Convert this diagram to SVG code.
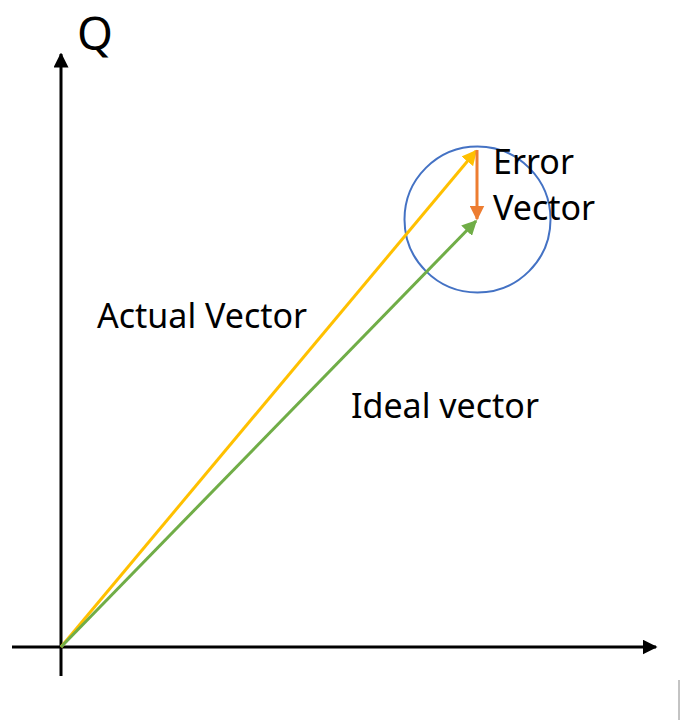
<svg xmlns="http://www.w3.org/2000/svg" width="680" height="720" viewBox="0 0 680 720">
<defs>
<style>
.lbl{font-family:"Noto Sans","Open Sans","DejaVu Sans",sans-serif;font-size:34px;fill:#000}
.ax{stroke:#000;stroke-width:3;fill:none}
.vec{stroke-width:3;fill:none}
</style>
<marker id="hk" viewBox="0 0 10 10" refX="9" refY="5" markerWidth="5" markerHeight="5" orient="auto" markerUnits="strokeWidth"><path d="M0,0 L10,5 L0,10 z" fill="#000"/></marker>
<marker id="hy" viewBox="0 0 10 10" refX="9" refY="5" markerWidth="5" markerHeight="5" orient="auto" markerUnits="strokeWidth"><path d="M0,0 L10,5 L0,10 z" fill="#FFC000"/></marker>
<marker id="hg" viewBox="0 0 10 10" refX="9" refY="5" markerWidth="5" markerHeight="5" orient="auto" markerUnits="strokeWidth"><path d="M0,0 L10,5 L0,10 z" fill="#70AD47"/></marker>
<marker id="ho" viewBox="0 0 10 10" refX="9" refY="5" markerWidth="5" markerHeight="5" orient="auto" markerUnits="strokeWidth"><path d="M0,0 L10,5 L0,10 z" fill="#ED7D31"/></marker>
</defs>
<rect width="680" height="720" fill="#fff"/>
<g id="axes">
<line class="ax" x1="61" y1="676" x2="61" y2="54" marker-end="url(#hk)"/>
<line class="ax" x1="12" y1="647" x2="656" y2="647" marker-end="url(#hk)"/>
<text x="77" y="50" class="lbl" style="font-size:46px">Q</text>
</g>
<g id="circle">
<circle cx="477.5" cy="219.5" r="73" fill="none" stroke="#4472C4" stroke-width="2"/>
</g>
<g id="connectors">
<line class="vec" stroke="#FFC000" x1="61" y1="647" x2="476" y2="151" marker-end="url(#hy)"/>
<line class="vec" stroke="#70AD47" x1="61" y1="647" x2="476" y2="221" marker-end="url(#hg)"/>
<line class="vec" stroke="#ED7D31" x1="477" y1="150" x2="477" y2="219" marker-end="url(#ho)"/>
</g>
<g id="labels">
<text x="493" y="174" class="lbl">Error</text>
<text x="493" y="220" class="lbl">Vector</text>
<text x="97" y="328" class="lbl">Actual Vector</text>
<text x="351" y="418" class="lbl">Ideal vector</text>
</g>
<line x1="679" y1="680" x2="679" y2="720" stroke="#888" stroke-width="1"/>
</svg>
